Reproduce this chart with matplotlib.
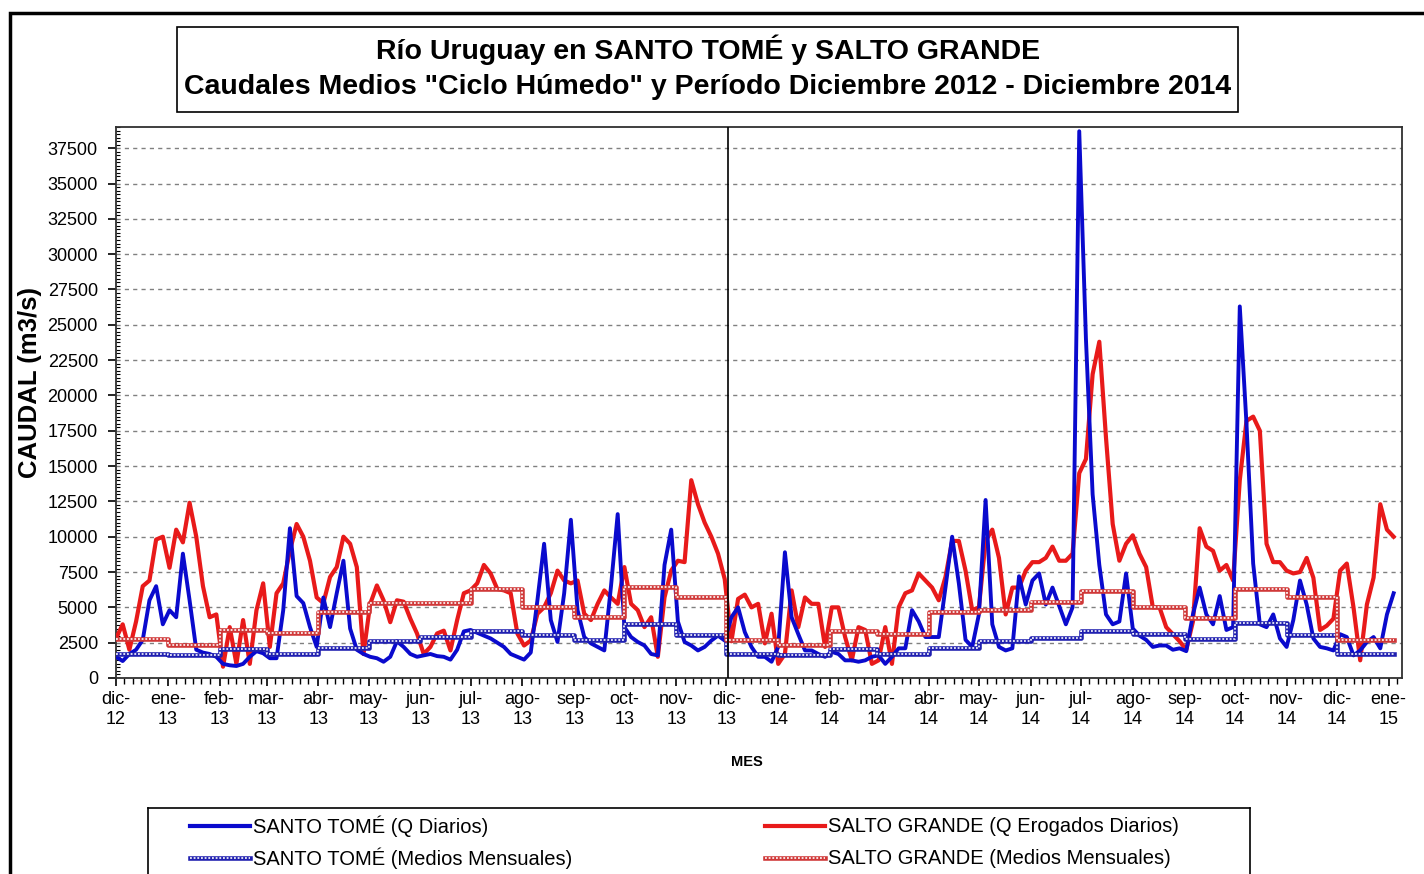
import numpy as np
import pandas as pd
import matplotlib
matplotlib.use("Agg")
import matplotlib.pyplot as plt
import matplotlib.dates as mdates
from matplotlib.patches import Rectangle
from matplotlib.ticker import MultipleLocator, FixedLocator

plt.rcParams['font.family'] = ['Liberation Sans', 'DejaVu Sans']

# caudales diarios leidos cada 4 dias desde 01/12/2012 (m3/s)
inicio = '2012-12-01'
paso = '4D'
santo_tome = [1500, 1200, 1700, 2000, 2700, 5500, 6500, 3800, 4800, 4300, 8800, 5500, 2000, 1800, 1700, 1500,
              1000, 900, 850, 1000, 1500, 1900, 1750, 1400, 1400, 4800, 10600, 5800, 5300, 3600, 2200, 5700,
              3600, 6000, 8300, 3500, 2000, 1700, 1500, 1400, 1150, 1500, 2600, 2200, 1700, 1500, 1600, 1700,
              1550, 1500, 1300, 2000, 3300, 3400, 3200, 3000, 2800, 2500, 2200, 1700, 1500, 1300, 1800, 5500,
              9500, 4100, 2550, 6000, 11200, 4800, 2900, 2450, 2200, 1950, 6500, 11600, 3600, 2900, 2550, 2300,
              1700, 1600, 8000, 10500, 4000, 2550, 2300, 1950, 2200, 2650, 3000, 2650, 4300, 5000, 3250, 2200,
              1500, 1500, 1150, 2200, 8900, 4300, 3100, 1950, 1950, 1700, 1500, 1850, 1700, 1250, 1250, 1150,
              1250, 1500, 1600, 1000, 1500, 2100, 2100, 4800, 4000, 2900, 2900, 2900, 6400, 10000, 6700, 2700,
              2200, 4500, 12600, 3800, 2200, 1950, 2100, 7200, 5200, 6900, 7400, 5200, 6400, 5100, 3800, 5000,
              38700, 24000, 13000, 8000, 4500, 3800, 4000, 7400, 3500, 3000, 2700, 2200, 2300, 2300, 2000, 2100,
              1900, 4500, 6400, 4500, 3800, 5800, 3400, 3600, 26300, 18000, 8100, 3800, 3600, 4500, 2800, 2200,
              4100, 6900, 5200, 2800, 2200, 2100, 1950, 3100, 2900, 1600, 1950, 2550, 2900, 2100, 4500, 6000]
salto_grande = [2800, 3800, 2000, 4000, 6500, 6900, 9800, 10000, 7800, 10500, 9600, 12400, 10000, 6500, 4300, 4500,
                800, 3600, 1000, 4100, 1000, 4800, 6700, 2200, 6000, 6700, 9000, 10900, 10000, 8300, 5700, 5300,
                7150, 7850, 10000, 9500, 7850, 1700, 5250, 6550, 5500, 3950, 5500, 5400, 4200, 3150, 1700, 2200,
                3150, 3350, 1950, 4100, 6000, 6200, 6700, 8000, 7400, 6300, 6200, 6000, 3150, 2300, 2650, 4550,
                5000, 6000, 7600, 6900, 6700, 6900, 4550, 4100, 5250, 6200, 5700, 5250, 7850, 5250, 4800, 3600,
                4300, 1500, 5700, 7600, 8300, 8200, 14000, 12300, 11000, 10000, 8800, 7000, 2600, 5600, 5900, 5000,
                5250, 2450, 4550, 1000, 1700, 6200, 3600, 5700, 5250, 5250, 2200, 5000, 5000, 2900, 1250, 3600,
                3400, 1000, 1250, 3600, 1000, 5000, 6000, 6200, 7400, 6900, 6400, 5500, 7150, 9700, 9700, 7600,
                4800, 5000, 9700, 10500, 8500, 4500, 6400, 6400, 7600, 8200, 8200, 8500, 9300, 8300, 8300, 8800,
                14500, 15500, 21500, 23800, 17000, 10900, 8300, 9500, 10100, 8800, 7850, 5000, 5000, 3600, 3100, 2600,
                2000, 4000, 10600, 9300, 9000, 7600, 8000, 6900, 14000, 18200, 18500, 17500, 9500, 8200, 8200, 7600,
                7400, 7500, 8500, 7100, 3400, 3700, 4200, 7600, 8100, 5000, 1250, 5200, 7100, 12300, 10500, 10000]

# medios mensuales "ciclo humedo", dic-12 ... dic-14
st_mensual = [1700, 1650, 2050, 1700, 2100, 2600, 2900, 3300, 3050, 2700, 3850, 3050, 1700,
              1650, 2050, 1700, 2150, 2600, 2850, 3350, 3080, 2730, 3880, 3020, 1680]
sg_mensual = [2780, 2310, 3370, 3170, 4680, 5300, 5300, 6270, 5020, 4300, 6440, 5730, 2710,
              2310, 3330, 3090, 4680, 4790, 5380, 6150, 5020, 4270, 6320, 5730, 2710]

meses = ['ene', 'feb', 'mar', 'abr', 'may', 'jun', 'jul', 'ago', 'sep', 'oct', 'nov', 'dic']

W, H = 1424, 874
fig = plt.figure(figsize=(W / 100, H / 100), dpi=100)

def fx(px):
    return px / W

def fy(py):
    return 1 - py / H

ax = fig.add_axes([fx(116), fy(678), fx(1402 - 116), (678 - 127) / H])

dias = pd.date_range(inicio, periods=len(santo_tome), freq=paso).values
fechas_mes = pd.date_range(inicio, periods=len(st_mensual), freq='MS').values
x_mes = np.append(fechas_mes, dias[-1])

azul = '#0A0ACD'
rojo = '#E81A1A'
azul_m = '#2020B0'
rojo_m = '#D03838'

ax.plot(dias, salto_grande, color=rojo, lw=3.0, zorder=3, solid_joinstyle='round')
ax.plot(dias, santo_tome, color=azul, lw=2.8, zorder=4, solid_joinstyle='round')

def cadena(x, y, color, z):
    yy = np.append(y, y[-1])
    ax.step(x, yy, where='post', color=color, lw=3.3, zorder=z)
    ax.step(x, yy, where='post', color='white', lw=1.2, ls=(0, (1.1, 1.1)), zorder=z + 0.1)

cadena(x_mes, st_mensual, azul_m, 5)
cadena(x_mes, sg_mensual, rojo_m, 5.5)

ax.axvline(np.datetime64('2013-12-02'), color='black', lw=1.2, zorder=6)

ax.set_xlim(np.datetime64('2012-12-01'), np.datetime64('2015-01-09'))
ax.set_ylim(0, 39000)

# ejes
ticks_mes = pd.date_range(inicio, '2015-01-01', freq='MS')
ax.xaxis.set_major_locator(FixedLocator(mdates.date2num(ticks_mes.to_pydatetime())))
ax.set_xticklabels([f"{meses[t.month - 1]}-\n{t.year % 100:02d}" for t in ticks_mes])
ax.xaxis.set_minor_locator(mdates.DayLocator(bymonthday=[6, 11, 16, 21, 26]))
ax.yaxis.set_major_locator(MultipleLocator(2500))
ax.yaxis.set_minor_locator(MultipleLocator(250))
ax.tick_params(axis='both', which='major', direction='out', length=6, width=1.2,
               labelsize=13, colors='black')
ax.tick_params(axis='x', which='major', pad=3)
ax.tick_params(axis='y', which='major', pad=7)
ax.tick_params(axis='x', which='minor', direction='out', length=4, width=1)
ax.tick_params(axis='y', which='minor', direction='in', length=3, width=0.8)
for lab in ax.get_xticklabels():
    lab.set_linespacing(1.25)

ax.yaxis.grid(True, which='major', ls=(0, (3, 3)), color='#808080', lw=1)
for s in ax.spines.values():
    s.set_color('#303030')
    s.set_linewidth(1.3)

fig.text(fx(30), fy(382), 'CAUDAL (m3/s)', rotation=90, ha='center', va='center',
         fontsize=18.5, fontweight='bold')
fig.text(fx(747), fy(762), 'MES', ha='center', va='center', fontsize=10.5, fontweight='bold')

# titulo
fig.add_artist(Rectangle((fx(177), fy(112)), fx(1238 - 177), (112 - 27) / H,
                         transform=fig.transFigure, fill=False, ec='black', lw=1.2))
fig.text(fx(708), fy(50), 'Río Uruguay en SANTO TOMÉ y SALTO GRANDE',
         ha='center', va='center', fontsize=20.5, fontweight='bold')
fig.text(fx(708), fy(87), 'Caudales Medios "Ciclo Húmedo" y Período Diciembre 2012 - Diciembre 2014',
         ha='center', va='center', fontsize=20.5, fontweight='bold')

# borde exterior
fig.add_artist(Rectangle((fx(10), -0.05), 1.1, fy(13) + 0.05, transform=fig.transFigure,
                         fill=False, ec='black', lw=2.5))

# leyenda
lg = fig.add_axes([fx(148), -0.02, fx(1250 - 148), (874 - 808) / H + 0.02])
lg.set_xlim(148, 1250)
lg.set_ylim(874 + 0.02 * H, 808)
lg.set_xticks([])
lg.set_yticks([])
for s in lg.spines.values():
    s.set_color('black')
    s.set_linewidth(1.2)

entradas = [
    (190, 826, azul, False, 'SANTO TOMÉ (Q Diarios)'),
    (190, 858, azul_m, True, 'SANTO TOMÉ (Medios Mensuales)'),
    (765, 826, rojo, False, 'SALTO GRANDE (Q Erogados Diarios)'),
    (765, 858, rojo_m, True, 'SALTO GRANDE (Medios Mensuales)'),
]
for x0, y0, col, mensual, txt in entradas:
    if mensual:
        lg.plot([x0, x0 + 60], [y0, y0], color=col, lw=3.3)
        lg.plot([x0, x0 + 60], [y0, y0], color='white', lw=1.2, ls=(0, (1.1, 1.1)))
    else:
        lg.plot([x0, x0 + 60], [y0, y0], color=col, lw=3.0)
    lg.text(x0 + 63, y0, txt, ha='left', va='center', fontsize=14.5)

fig.savefig('out.png', dpi=100)
